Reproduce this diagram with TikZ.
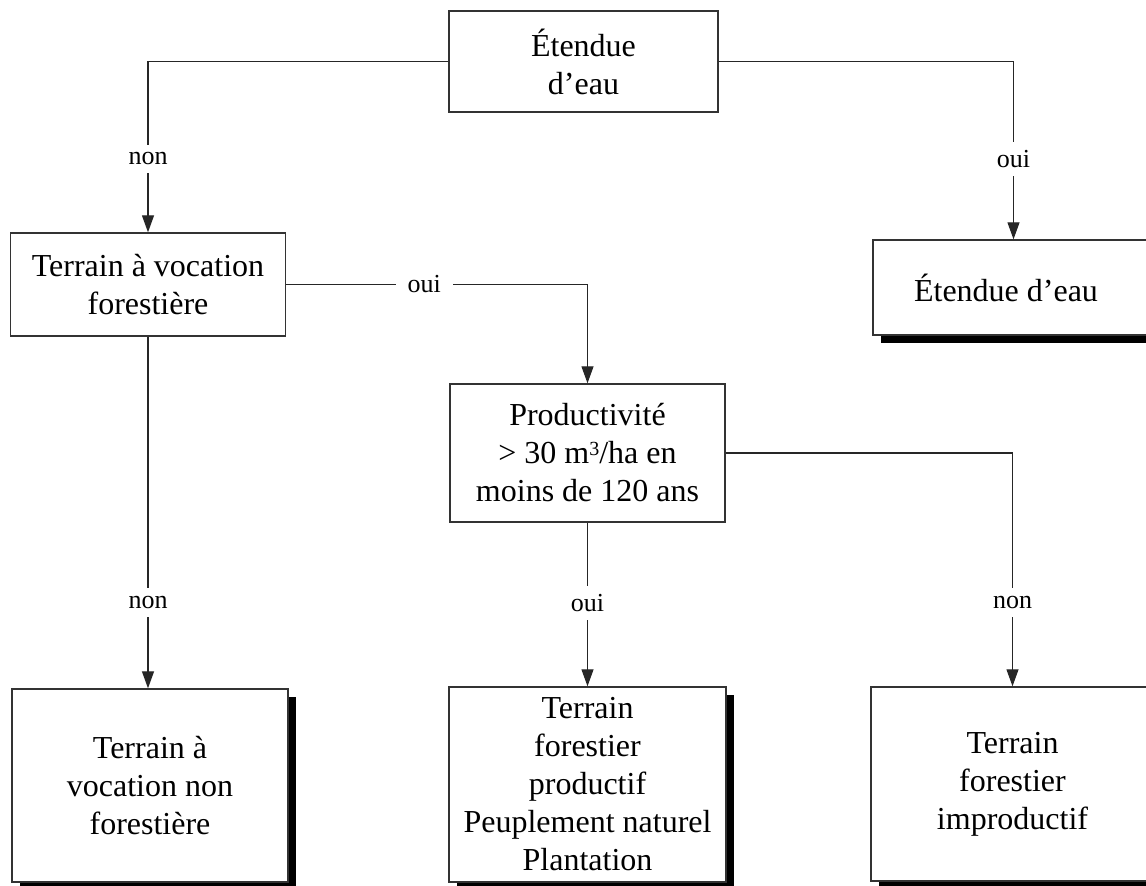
\documentclass[tikz,border=0pt]{standalone}
\usepackage{fontspec}
\setmainfont{Liberation Serif}
\usetikzlibrary{arrows.meta,shadows}
\newcommand{\cubed}{\raisebox{0.55ex}{\fontsize{20}{20}\selectfont 3}}
\begin{document}
\begin{tikzpicture}[x=1pt,y=-1pt,
  box/.style={draw=black!80,line width=1.4pt,fill=white,align=center,
    inner sep=0pt,font=\fontsize{32}{38}\selectfont},
  endbox/.style={box,drop shadow={opacity=1,fill=black,shadow xshift=8pt,shadow yshift=-8pt}},
  link/.style={draw=black!85,line width=1.2pt},
  arr/.style={link,-{Triangle[length=17pt,width=12pt]}},
  lab/.style={fill=white,inner xsep=12pt,inner ysep=8pt,font=\fontsize{26}{30}\selectfont}]
\useasboundingbox (0,0) rectangle (1146,886);
\clip (0,0) rectangle (1146,886);

% decision boxes
\node[box,minimum width=269pt,minimum height=101pt] (top) at (583.5,61.5) {Étendue\\d’eau};
\node[box,minimum width=275pt,minimum height=103pt] (voc) at (148,284.5) {Terrain à vocation\\forestière};
\node[box,minimum width=275pt,minimum height=138pt] (prod) at (587.5,453) {Productivité\\> 30 m\cubed/ha en\\moins de 120 ans};

% outcome boxes (the two on the right run past the page edge)
\node[endbox,minimum width=281pt,minimum height=95pt] (eau) at (1013.5,287.5) {Étendue d’eau\hspace*{15pt}};
\node[endbox,minimum width=276pt,minimum height=193pt] (nvf) at (150,785.5) {Terrain à\\vocation non\\forestière};
\node[endbox,minimum width=277pt,minimum height=195pt] (pf) at (587.5,784.5) {Terrain\\forestier\\productif\\Peuplement naturel\\Plantation};
\node[endbox,minimum width=283pt,minimum height=194pt] (ipf) at (1012.5,784) {Terrain\\forestier\\improductif};

% connectors
\draw[arr] (top.west) -| node[lab,pos=0.785] {non} (voc.north);
\draw[arr] (top.east) -| node[lab,pos=0.774] {oui} (eau.north);
\draw[arr] (voc.east) -| node[lab,pos=0.229] {oui} (prod.north);
\draw[arr] (voc.south) -- node[lab,pos=0.756] {non} (voc.south |- nvf.north);
\draw[arr] (prod.south) -- node[lab,pos=0.49] {oui} (prod.south |- pf.north);
\draw[arr] (prod.east) -| node[lab,pos=0.82] {non} (ipf.north);
\end{tikzpicture}
\end{document}
